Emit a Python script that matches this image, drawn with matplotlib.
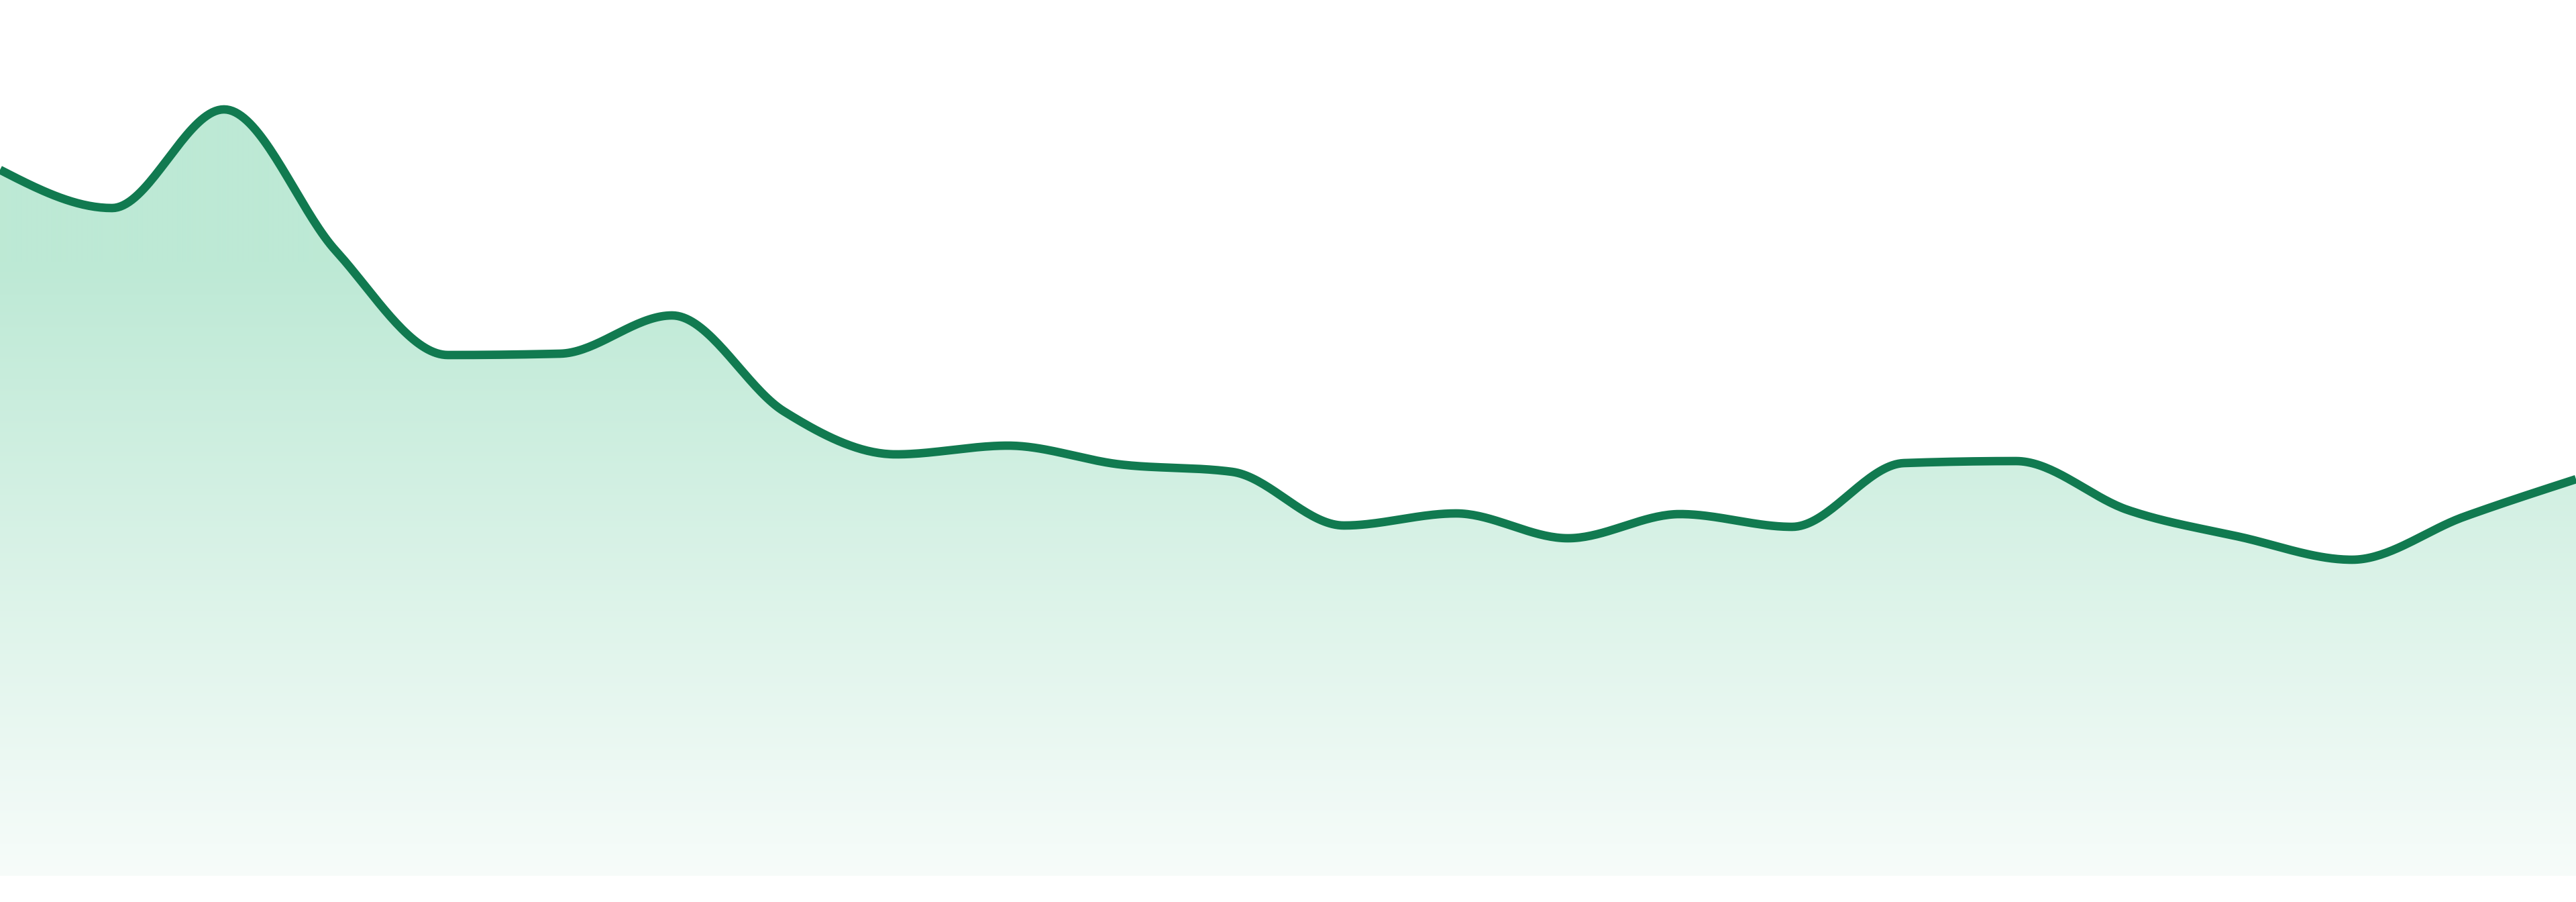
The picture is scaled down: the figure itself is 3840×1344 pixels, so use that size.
import numpy as np
import matplotlib
matplotlib.use("Agg")
import matplotlib.pyplot as plt

# ---- data (index positions and values) ----
categories = list(range(24))
values = [105.2, 99.5, 114.2, 93.1, 77.6, 77.8, 83.5, 69.2, 62.8, 64.1, 61.3, 60.2,
          52.2, 54.0, 50.3, 53.9, 52.0, 61.5, 61.8, 54.5, 50.5, 47.1, 53.5, 59.1]

LINE_COLOR = "#117a50"
TOP_RGB = (189, 233, 213)
BOT_RGB = (247, 252, 250)


def monotone_x(xs, ys, n=40):
    xs = np.asarray(xs, float)
    ys = np.asarray(ys, float)
    m = len(xs)
    h = np.diff(xs)
    s = np.diff(ys) / h
    t = np.zeros(m)
    for i in range(1, m - 1):
        s0, s1 = s[i - 1], s[i]
        h0, h1 = h[i - 1], h[i]
        p = (s0 * h1 + s1 * h0) / (h0 + h1)
        t[i] = (np.sign(s0) + np.sign(s1)) * min(abs(s0), abs(s1), 0.5 * abs(p))
    t[0] = (3 * s[0] - t[1]) / 2
    t[-1] = (3 * s[-1] - t[-2]) / 2
    px, py = [], []
    u = np.linspace(0, 1, n)
    for i in range(m - 1):
        dx = h[i] / 3
        x0, y0 = xs[i], ys[i]
        x3, y3 = xs[i + 1], ys[i + 1]
        x1, y1 = x0 + dx, y0 + dx * t[i]
        x2, y2 = x3 - dx, y3 - dx * t[i + 1]
        bx = (1 - u) ** 3 * x0 + 3 * (1 - u) ** 2 * u * x1 + 3 * (1 - u) * u ** 2 * x2 + u ** 3 * x3
        by = (1 - u) ** 3 * y0 + 3 * (1 - u) ** 2 * u * y1 + 3 * (1 - u) * u ** 2 * y2 + u ** 3 * y3
        if i > 0:
            bx, by = bx[1:], by[1:]
        px.append(bx)
        py.append(by)
    return np.concatenate(px), np.concatenate(py)


W, H, DPI = 3840, 1344, 100
fig = plt.figure(figsize=(W / DPI, H / DPI), dpi=DPI)
fig.patch.set_facecolor("white")
ax = fig.add_axes([0, 0, 1, 1])
ax.set_facecolor("white")
ymin, ymax = -3.9, 130.5
ax.set_xlim(0, len(categories) - 1)
ax.set_ylim(ymin, ymax)
ax.axis("off")

sx, sy = monotone_x(categories, values)

# gradient image
rows = np.arange(H)
y_top_px, y_bot_px = 390.0, 1305.0
tt = np.clip((rows - y_top_px) / (y_bot_px - y_top_px), 0, 1)
top = np.array(TOP_RGB) / 255.0
bot = np.array(BOT_RGB) / 255.0
col = top[None, :] * (1 - tt[:, None]) + bot[None, :] * tt[:, None]
img = np.repeat(col[:, None, :], 8, axis=1)

poly = ax.fill_between(sx, 0, sy, color="none", linewidth=0)
im = ax.imshow(img, extent=(0, len(categories) - 1, ymin, ymax), origin="upper",
               aspect="auto", interpolation="bilinear", zorder=1)
path = poly.get_paths()[0]
im.set_clip_path(path, transform=ax.transData)

ax.plot(sx, sy, color=LINE_COLOR, linewidth=9.1, solid_joinstyle="round",
        solid_capstyle="butt", zorder=3)

fig.savefig("out.png", dpi=DPI, facecolor="white")
